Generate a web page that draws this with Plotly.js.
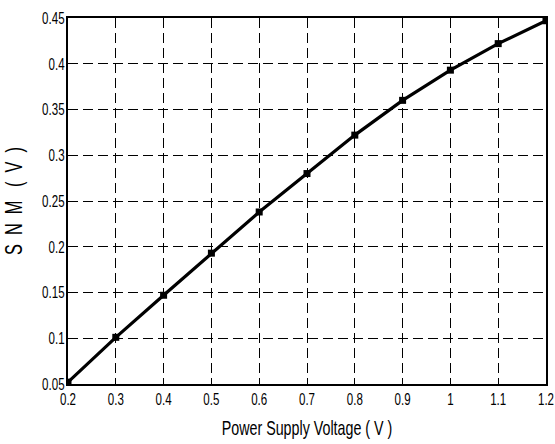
<!DOCTYPE html>
<html><head><meta charset="utf-8">
<script src="https://cdn.plot.ly/plotly-3.0.1.min.js"></script>
<style>body{margin:0;background:#fff}#c{width:555px;height:444px}</style>
</head><body><div id="c"></div>
<script>
const voltage = [0.2, 0.3, 0.4, 0.5, 0.6, 0.7, 0.8, 0.9, 1.0, 1.1, 1.2];
const snm = [0.052, 0.101, 0.147, 0.193, 0.238, 0.280, 0.322, 0.360, 0.393, 0.422, 0.447];
const xTicks = [0.2, 0.3, 0.4, 0.5, 0.6, 0.7, 0.8, 0.9, 1, 1.1, 1.2];
const yTicks = [0.05, 0.1, 0.15, 0.2, 0.25, 0.3, 0.35, 0.4, 0.45];
const font = 'Liberation Sans, Arial, sans-serif';
const SX = 0.68;
Plotly.newPlot('c', [{
  x: voltage, y: snm, mode: 'lines+markers', type: 'scatter',
  line: {color: '#000', width: 3.2},
  marker: {symbol: 'square', size: 7, color: '#000'}
}], {
  width: 555, height: 444,
  margin: {l: 68, r: 9, t: 18, b: 60},
  paper_bgcolor: '#fff', plot_bgcolor: '#fff',
  showlegend: false,
  font: {family: font, size: 17, color: '#000'},
  xaxis: {
    range: [0.2, 1.2], tickvals: xTicks, ticktext: xTicks.map(String),
    showgrid: true, gridcolor: '#000', gridwidth: 1, griddash: '10px,5px',
    showline: true, linecolor: '#000', linewidth: 2, mirror: true,
    zeroline: false, ticks: '', ticklen: 0, tickangle: 0,
    ticklabeloverflow: 'allow', ticklabelstandoff: -1,
    title: {text: 'Power Supply Voltage ( V )', font: {family: font, size: 21, color: '#000'}, standoff: 12}
  },
  yaxis: {
    range: [0.05, 0.45], tickvals: yTicks, ticktext: yTicks.map(String),
    showgrid: true, gridcolor: '#000', gridwidth: 1, griddash: '10px,5px',
    showline: true, linecolor: '#000', linewidth: 2, mirror: true,
    zeroline: false, ticks: '', ticklen: 0,
    ticklabeloverflow: 'allow', ticklabelstandoff: -2,
    title: {text: 'S &nbsp;N &nbsp;M &nbsp;&nbsp;( &nbsp;V &nbsp;)', font: {family: font, size: 24, color: '#000'}, standoff: 2}
  }
}, {displayModeBar: false, staticPlot: true}).then(gd => {
  gd.querySelectorAll('svg text').forEach(t => {
    const x = parseFloat(t.getAttribute('x')) || 0;
    const y = parseFloat(t.getAttribute('y')) || 0;
    const tr = t.getAttribute('transform') || '';
    t.setAttribute('transform', tr + ` translate(${x},${y}) scale(${SX},1) translate(${-x},${-y})`);
  });
});
</script></body></html>
